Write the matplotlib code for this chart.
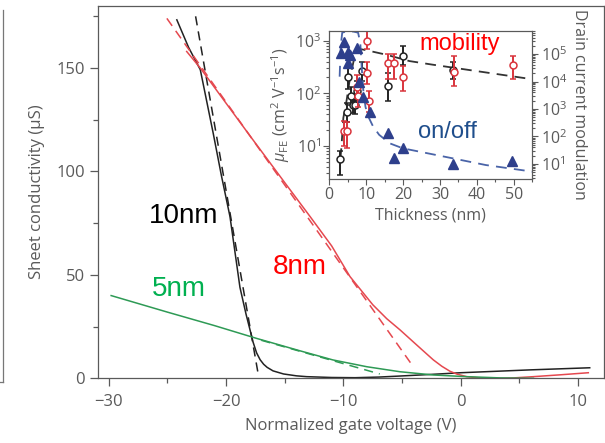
import numpy as np
import matplotlib
matplotlib.use("Agg")
import matplotlib.pyplot as plt
from matplotlib.lines import Line2D
from matplotlib.ticker import MultipleLocator, LogLocator

plt.rcParams['font.family'] = ['Open Sans', 'DejaVu Sans']
plt.rcParams['mathtext.fontset'] = 'custom'
plt.rcParams['mathtext.rm'] = 'Open Sans'
plt.rcParams['mathtext.it'] = 'Open Sans:italic'

# --- transfer curves: normalized gate voltage (V) vs sheet conductivity (uS) ---
v_10nm = [-24.2, -23.2, -22.2, -21.1, -20.4, -19.67, -18.82, -18.3, -17.96, -17.7,
          -17.4, -17.1, -16.8, -16.5, -16.0, -15.1, -14.0, -13.13, -11.0, -9.0,
          -7.0, -5.2, -2.5, 0.0, 3.0, 6.0, 9.0, 11.0]
s_10nm = [173.3, 160.0, 149.2, 118.5, 98.0, 78.2, 44.0, 31.0, 23.4, 17.5,
          12.3, 9.0, 6.8, 5.3, 3.6, 2.1, 1.2, 0.8, 0.4, 0.3,
          0.6, 1.1, 1.9, 2.7, 3.4, 4.1, 4.7, 5.1]
v_10nm_fit = [-22.6, -17.25]
s_10nm_fit = [175.0, 1.6]

v_8nm = [-23.36, -22.2, -18.0, -15.0, -12.84, -11.0, -9.44, -7.5, -6.3, -5.17,
         -4.0, -3.0, -2.33, -1.6, -0.91, -0.3, 0.51, 1.5, 2.5, 3.35,
         4.5, 6.19, 8.5, 10.88]
s_8nm = [158.0, 150.0, 117.5, 94.6, 78.2, 64.0, 49.2, 35.6, 28.8, 23.4,
         17.4, 12.3, 8.9, 5.8, 3.4, 2.0, 0.8, 0.25, 0.05, 0.0,
         0.2, 0.8, 1.7, 2.7]
v_8nm_fit = [-25.05, -4.04]
s_8nm_fit = [174.0, 5.6]

v_5nm = [-29.8, -25.0, -21.0, -17.4, -13.7, -10.9, -8.0, -5.2, -2.3, 0.5, 3.4, 6.2]
s_5nm = [40.0, 32.0, 25.5, 19.3, 13.3, 8.9, 5.6, 3.2, 1.6, 0.8, 0.2, 0.0]
v_5nm_fit = [-17.0, -6.9]
s_5nm_fit = [18.4, 2.1]

# --- inset: field-effect mobility and on/off ratio vs flake thickness ---
t_black = [3.0, 4.9, 5.1, 6.0, 6.4, 6.9, 7.4, 8.9, 15.9, 20.0, 33.6]
mu_black = [5.6, 44, 200, 89, 60, 60, 110, 270, 135, 515, 280]
mu_black_lo = [2.8, 28, 120, 60, 42, 40, 70, 170, 71, 350, 190]
mu_black_hi = [8.1, 65, 330, 130, 85, 85, 170, 400, 240, 780, 400]

t_red = [3.9, 4.8, 7.6, 7.8, 10.1, 10.1, 10.8, 15.9, 17.4, 19.9, 33.7, 49.8]
mu_red = [19.5, 19, 134, 87, 1000, 245, 72, 372, 372, 200, 258, 340]
mu_red_lo = [10, 9, 80, 55, 700, 150, 45, 190, 190, 110, 135, 185]
mu_red_hi = [30, 28, 220, 140, 1500, 400, 110, 550, 550, 330, 510, 510]

t_onoff = [3.15, 4.05, 5.1, 5.7, 5.1, 7.5, 8.1, 9.0, 11.0, 15.9, 17.4, 20.1, 33.6, 49.6]
onoff = [1.07e5, 2.8e5, 1.2e5, 9.1e4, 4.6e4, 1.7e5, 9.8e3, 2.8e3, 7.9e2,
         1.3e2, 17, 37, 10, 13]

t_mu_trend = [3.0, 3.3, 3.8, 4.7, 5.6, 6.8, 8.0, 10.0, 15.5, 21.7, 28.0, 40.6, 55.0]
mu_trend = [5.6, 9.8, 34, 74, 195, 480, 700, 660, 540, 410, 350, 260, 185]

t_onoff_trend = [2.8, 3.1, 3.5, 4.5, 6.5, 7.8, 8.4, 8.8, 9.2, 9.8, 10.5, 11.8, 13.5,
                 16.4, 19.9, 24.4, 33.4, 42.4, 52.7, 55.0]
onoff_trend = [1.5e4, 2e5, 6e5, 6.6e5, 6.6e5, 6e5, 2.5e5, 3e4, 5e3, 1.2e3, 5.5e2,
               2.4e2, 1.15e2, 56, 37, 28, 16, 9.1, 5.8, 5.2]

grey = '#5a5a5a'
red_line = '#e5484f'
green_line = '#2e9a55'
navy = '#2e3f8c'

fig = plt.figure(figsize=(6.05, 4.43), dpi=100)

# main panel
ax = fig.add_axes([0.162, 0.146, 0.8364, 0.8405])
ax.plot(v_10nm, s_10nm, color='#222222', lw=1.1)
ax.plot(v_10nm_fit, s_10nm_fit, color='#222222', lw=1.1, ls=(0, (6, 4)))
ax.plot(v_8nm, s_8nm, color=red_line, lw=1.1)
ax.plot(v_8nm_fit, s_8nm_fit, color=red_line, lw=1.1, ls=(0, (6, 4)))
ax.plot(v_5nm, s_5nm, color=green_line, lw=1.1)
ax.plot(v_5nm_fit, s_5nm_fit, color=green_line, lw=1.1, ls=(0, (6, 4)))

ax.set_xlim(-30.92, 12.22)
ax.set_ylim(0, 180)
ax.xaxis.set_major_locator(MultipleLocator(10))
ax.xaxis.set_minor_locator(MultipleLocator(5))
ax.yaxis.set_major_locator(MultipleLocator(50))
ax.yaxis.set_minor_locator(MultipleLocator(25))
ax.tick_params(which='both', direction='out', color=grey, labelcolor=grey,
               labelsize=12, width=0.9)
ax.tick_params(which='major', length=6)
ax.tick_params(which='minor', length=3.5)
ax.tick_params(axis='x', pad=5)
ax.xaxis.set_major_formatter(plt.FuncFormatter(lambda v, p: f'{v:.0f}'.replace('-', '\u2212')))
for sp in ax.spines.values():
    sp.set_color(grey)
    sp.set_linewidth(0.9)
ax.set_xlabel('Normalized gate voltage (V)', fontsize=12, color=grey, labelpad=6)
ax.set_ylabel('Sheet conductivity (\u03bcS)', fontsize=12, color=grey)
ax.yaxis.set_label_coords(-0.105, 0.5)

lab = dict(fontsize=20, family=['Liberation Sans', 'DejaVu Sans'])
ax.text(-26.6, 75, '10nm', color='black', **lab)
ax.text(-26.3, 40, '5nm', color='#00b050', **lab)
ax.text(-16.0, 50.5, '8nm', color='red', **lab)

# inset
ins = fig.add_axes([0.5443, 0.5959, 0.3355, 0.3348])
ins.set_yscale('log')
eb = dict(fmt='o', ms=5, mfc='white', mew=1.1, elinewidth=1.4, capsize=2, capthick=1.1)
ins.errorbar(t_black, mu_black,
             yerr=[np.subtract(mu_black, mu_black_lo), np.subtract(mu_black_hi, mu_black)],
             color='#222222', zorder=3, **eb)
ins.errorbar(t_red, mu_red,
             yerr=[np.subtract(mu_red, mu_red_lo), np.subtract(mu_red_hi, mu_red)],
             color='#d9343c', zorder=4, **eb)
ins.plot(t_mu_trend, mu_trend, color='#333333', lw=1.3, ls=(0, (6, 4)), zorder=2)
ins.set_xlim(0, 55)
ins.set_ylim(10 ** 0.37, 10 ** 3.19)
ins.xaxis.set_major_locator(MultipleLocator(10))
ins.xaxis.set_minor_locator(MultipleLocator(5))
ins.set_xlabel('Thickness (nm)', fontsize=11.5, color=grey, labelpad=3)
ins.set_ylabel(r'$\mu_{\rm FE}$ (cm$^2$ V$^{-1}$s$^{-1}$)', fontsize=11.5, color=grey, labelpad=2)

ins2 = ins.twinx()
ins2.set_yscale('log')
ins2.plot(t_onoff_trend, onoff_trend, color='#4a64a8', lw=1.3, ls=(0, (6, 4)), zorder=2)
ins2.plot(t_onoff, onoff, ls='none', marker='^', ms=6.5, color=navy, zorder=3)
ins2.set_ylim(10 ** 0.45, 10 ** 5.85)
ins2.yaxis.set_major_locator(LogLocator(base=10, numticks=12))
ins2.yaxis.set_minor_locator(LogLocator(base=10, subs=np.arange(2, 10), numticks=12))
ins2.set_ylabel('Drain current modulation', fontsize=11.5, color=grey,
                rotation=270, labelpad=14)

for a in (ins, ins2):
    a.tick_params(which='both', direction='out', color=grey, labelcolor=grey,
                  labelsize=11.5, width=0.8, pad=2)
    a.tick_params(which='major', length=4)
    a.tick_params(which='minor', length=2)
    for sp in a.spines.values():
        sp.set_color(grey)
        sp.set_linewidth(0.8)

ins.text(24.5, 10 ** 2.82, 'mobility', color='red', fontsize=17,
         family=['Liberation Sans', 'DejaVu Sans'])
ins2.text(24.0, 10 ** 1.95, 'on/off', color='#1f4e8c', fontsize=17,
          family=['Liberation Sans', 'DejaVu Sans'])

# edge of the neighbouring panel
fig.add_artist(Line2D([2.7 / 605, 2.7 / 605], [1 - 10 / 443, 1 - 382 / 443],
                      color='#777777', lw=0.9))
fig.add_artist(Line2D([0, 2.7 / 605], [1 - 382 / 443, 1 - 382 / 443],
                      color='#777777', lw=0.9))

fig.savefig('out.png', dpi=100)
